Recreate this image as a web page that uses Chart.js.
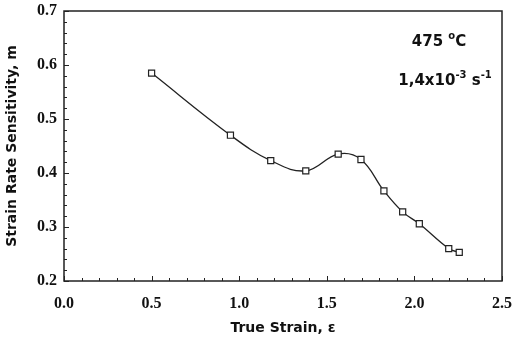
<!DOCTYPE html>
<html>
<head>
<meta charset="utf-8">
<script src="https://cdn.jsdelivr.net/npm/chart.js@4.4.1/dist/chart.umd.min.js"></script>
<style>
  html, body { margin: 0; padding: 0; background: #fff; }
  #wrap { width: 512px; height: 342px; }
</style>
</head>
<body>
<div id="wrap"><canvas id="c" width="512" height="342"></canvas></div>
<script>
// True strain vs. strain rate sensitivity at 475 °C
const trueStrain = [0.50, 0.95, 1.18, 1.38, 1.565, 1.695, 1.826, 1.933, 2.028, 2.196, 2.256];
const sensitivity = [0.585, 0.470, 0.423, 0.404, 0.435, 0.425, 0.367, 0.328, 0.306, 0.260, 0.253];
const xTicks = [0.0, 0.5, 1.0, 1.5, 2.0, 2.5];
const yTicks = [0.2, 0.3, 0.4, 0.5, 0.6, 0.7];

const tickFont = { family: 'Liberation Serif', size: 16, weight: 'bold' };
const titleFont = { family: 'DejaVu Sans', size: 14, weight: 'bold' };

// Frame, inward minor/major ticks and the condition labels
const framePlugin = {
  id: 'frame',
  afterDraw(chart) {
    const { ctx, chartArea: a, scales: { x, y } } = chart;
    ctx.save();
    ctx.strokeStyle = '#222';
    ctx.lineWidth = 1.5;
    ctx.strokeRect(a.left, a.top, a.right - a.left, a.bottom - a.top);
    ctx.lineWidth = 1;
    for (let i = 0; i <= 25; i++) {
      const px = Math.round(x.getPixelForValue(i / 10)) + 0.5;
      const len = i % 5 === 0 ? 5 : 3;
      ctx.beginPath();
      ctx.moveTo(px, a.bottom);
      ctx.lineTo(px, a.bottom - len);
      ctx.stroke();
    }
    for (let i = 0; i <= 25; i++) {
      const py = Math.round(y.getPixelForValue(0.2 + i * 0.02)) + 0.5;
      const len = i % 5 === 0 ? 5 : 3;
      ctx.beginPath();
      ctx.moveTo(a.left, py);
      ctx.lineTo(a.left + len, py);
      ctx.stroke();
    }
    // condition labels
    ctx.fillStyle = '#111';
    ctx.textBaseline = 'alphabetic';
    const big = 'bold 15px "DejaVu Sans"';
    const small = 'bold 10px "DejaVu Sans"';
    drawParts(ctx, [[big, '475 ', 0], [small, 'o', -7], [big, 'C', 0]], a.right - 63, a.top + 35);
    drawParts(ctx, [[big, '1,4x10', 0], [small, '-3', -7], [big, ' s', 0], [small, '-1', -7]], a.right - 57, a.top + 74);
    ctx.restore();
  }
};

function drawParts(ctx, parts, cx, baseY) {
  let w = 0;
  parts.forEach(p => { ctx.font = p[0]; w += ctx.measureText(p[1]).width; });
  let px = cx - w / 2;
  parts.forEach(p => {
    ctx.font = p[0];
    ctx.fillText(p[1], px, baseY + p[2]);
    px += ctx.measureText(p[1]).width;
  });
}

new Chart(document.getElementById('c'), {
  type: 'scatter',
  data: {
    datasets: [{
      data: trueStrain.map((v, i) => ({ x: v, y: sensitivity[i] })),
      showLine: true,
      borderColor: '#222',
      borderWidth: 1.3,
      tension: 0.4,
      pointStyle: 'rect',
      pointRadius: 4.3,
      pointBackgroundColor: '#fff',
      pointBorderColor: '#222',
      pointBorderWidth: 1.2
    }]
  },
  options: {
    responsive: false,
    animation: false,
    devicePixelRatio: 1,
    layout: { padding: { left: 0, top: 11, right: 10, bottom: 0 } },
    plugins: { legend: { display: false }, tooltip: { enabled: false } },
    scales: {
      x: {
        type: 'linear', min: 0, max: 2.5,
        afterBuildTicks: s => { s.ticks = xTicks.map(v => ({ value: v })); },
        afterFit: s => { s.height = 61; s.paddingLeft = 0; s.paddingRight = 0; },
        grid: { display: false, drawTicks: false },
        border: { display: false },
        ticks: {
          color: '#111', font: tickFont, padding: 13,
          callback: v => v.toFixed(1)
        },
        title: { display: true, text: 'True Strain, ε', color: '#111', font: titleFont, padding: { top: 4, bottom: 5 } }
      },
      y: {
        type: 'linear', min: 0.2, max: 0.7,
        afterBuildTicks: s => { s.ticks = yTicks.map(v => ({ value: v })); },
        afterFit: s => { s.width = 64; s.paddingTop = 0; s.paddingBottom = 0; },
        grid: { display: false, drawTicks: false },
        border: { display: false },
        ticks: {
          color: '#111', font: tickFont, padding: 7,
          callback: v => v.toFixed(1)
        },
        title: { display: true, text: 'Strain Rate Sensitivity, m', color: '#111', font: titleFont, padding: { top: 4, bottom: 0 } }
      }
    }
  },
  plugins: [framePlugin]
});
</script>
</body>
</html>
